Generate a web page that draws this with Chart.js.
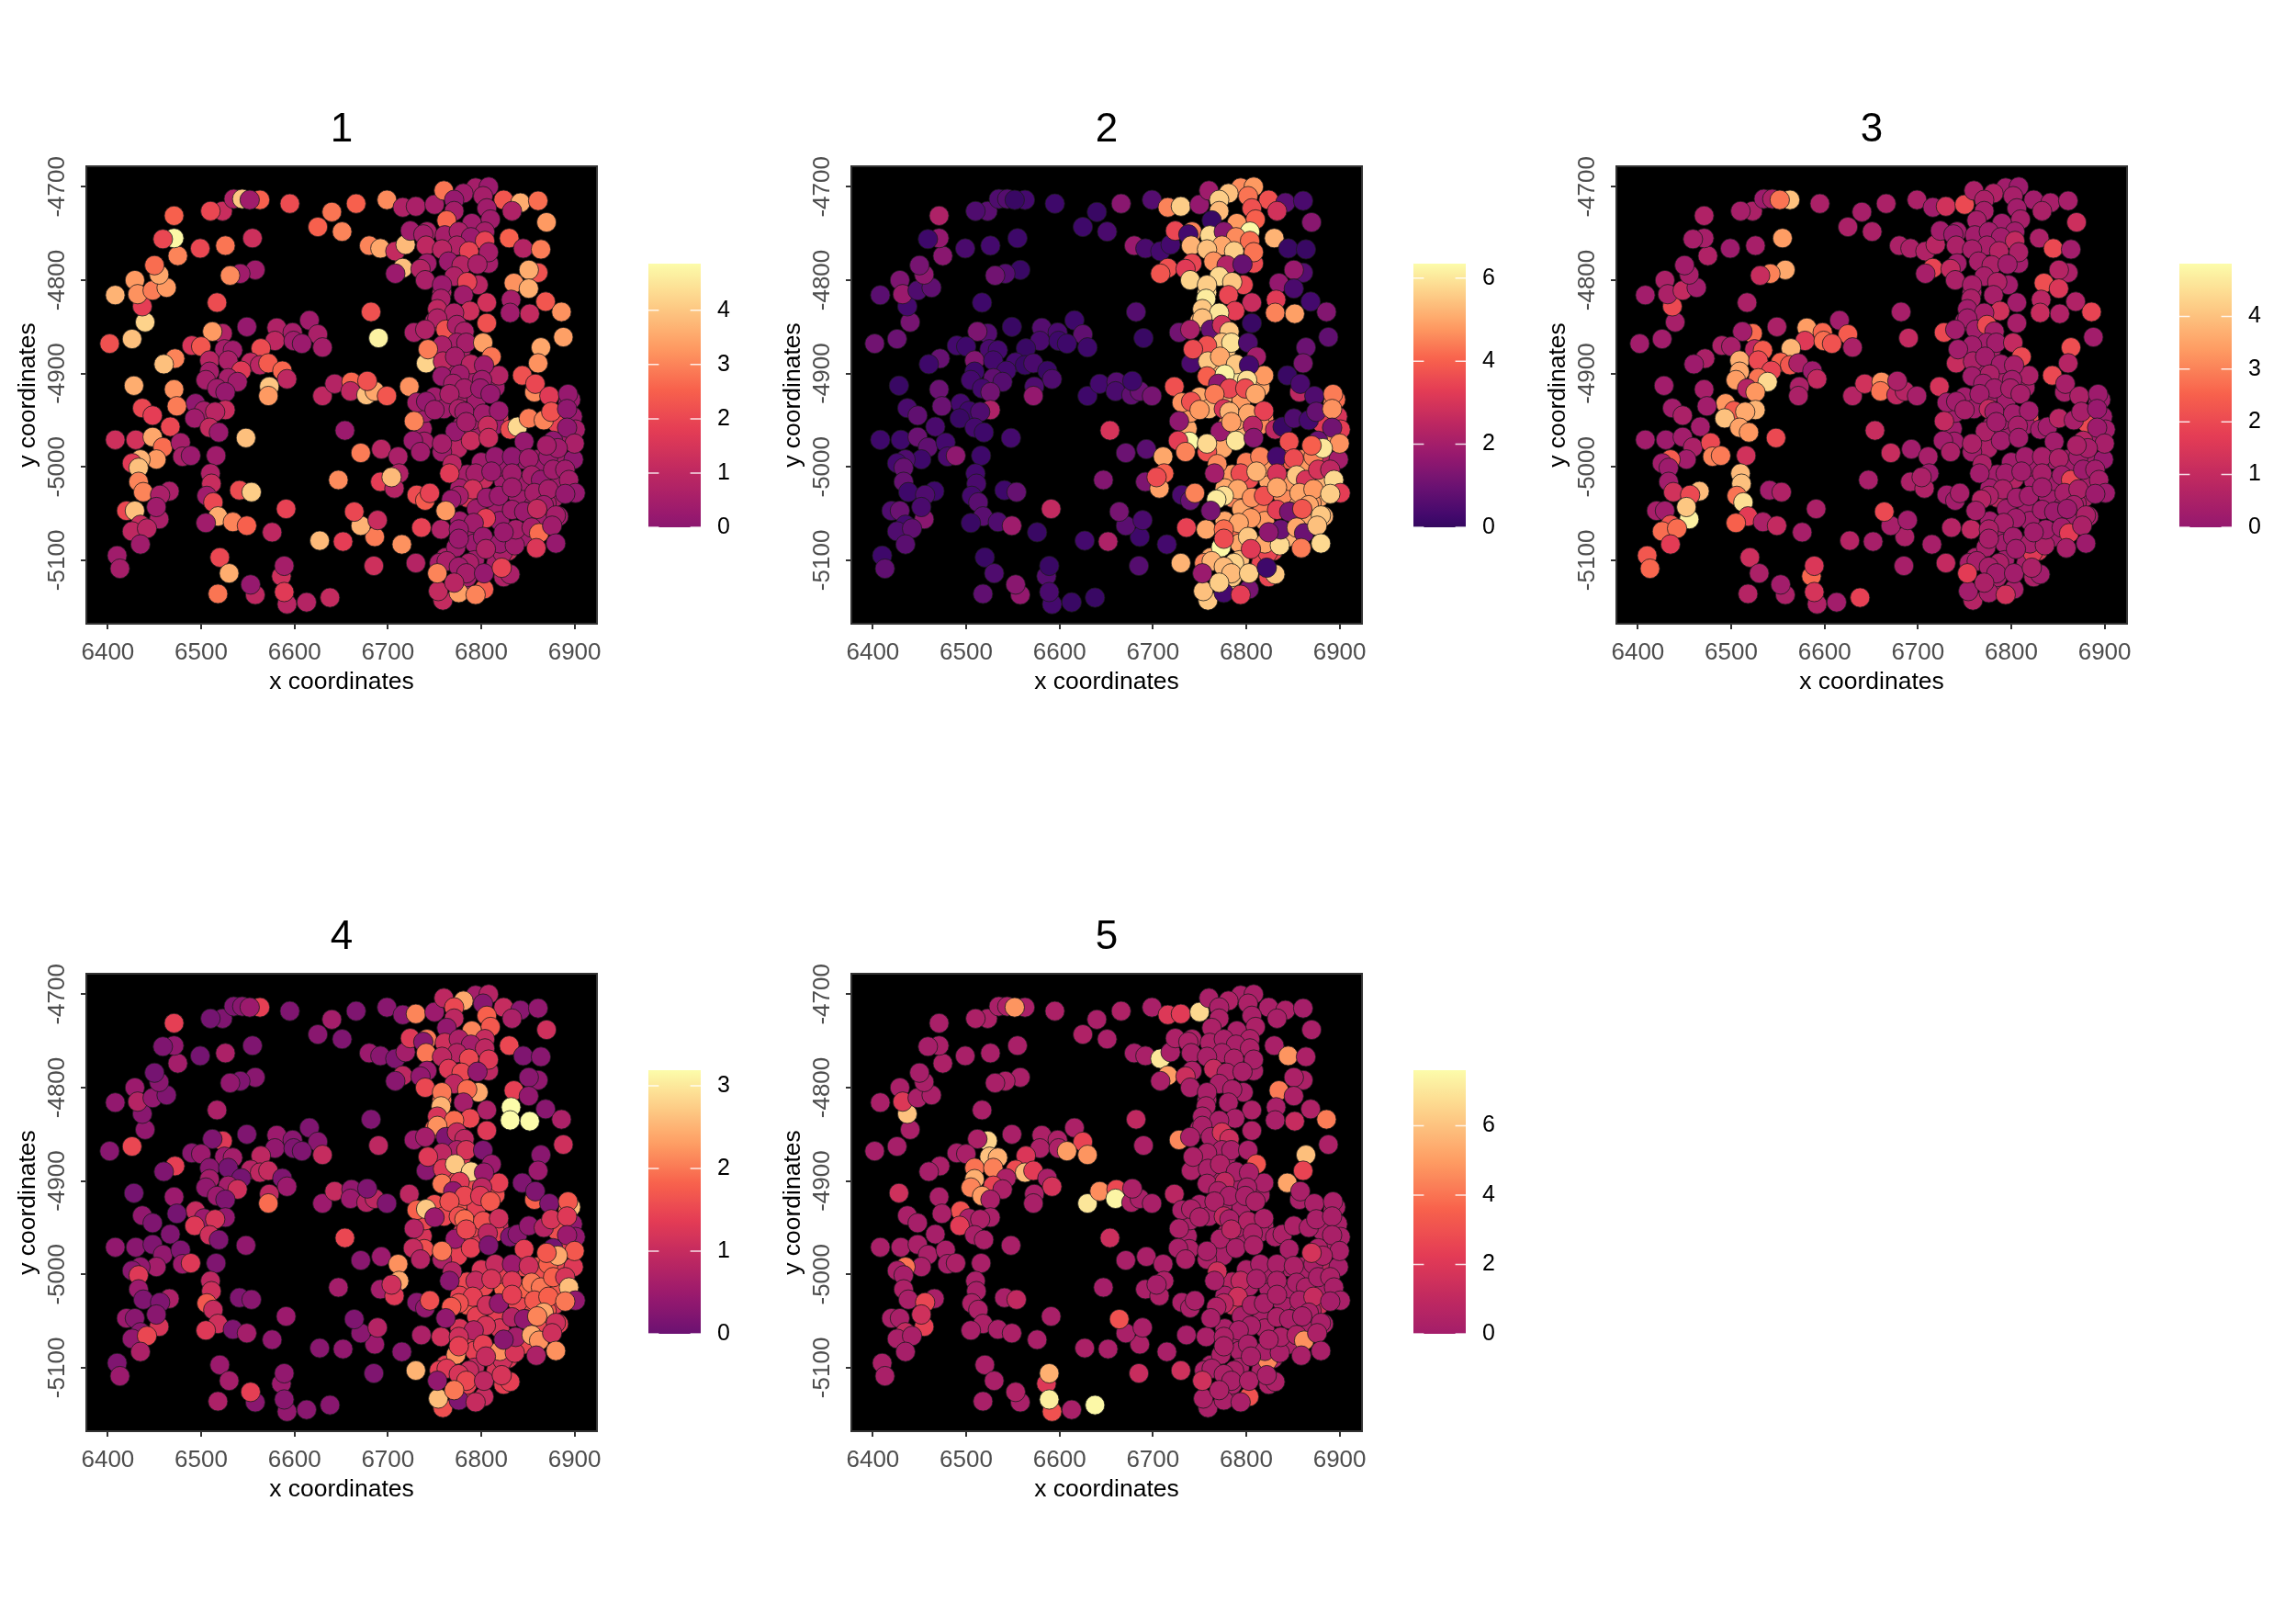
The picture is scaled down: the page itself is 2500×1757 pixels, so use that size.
<!DOCTYPE html>
<html>
<head>
<meta charset="utf-8">
<title>spatial feature plots</title>
<script src="https://cdn.jsdelivr.net/npm/chart.js@4"></script>
<style>
  body { margin: 0; background: #fff; }
  #page { position: relative; width: 2500px; height: 1757px; overflow: hidden; }
  canvas { position: absolute; }
</style>
</head>
<body>
<div id="page"></div>
<script>
const xs = [
6737,6819,6893,6881,6895,6886,6878,6852,6845,6860,
6785,6803,6824,6790,6785,6777,6777,6790,6813,6793,
6783,6785,6762,6793,6816,6829,6847,6855,6883,6870,
6839,6846,6817,6820,6847,6808,6758,6765,6750,6778,
6770,6790,6815,6775,6795,6750,6760,6815,6795,6780,
6790,6740,6775,6830,6800,6818,6860,6880,6868,6795,
6408,6402,6426,6440,6437,6429,6432,6448,6463,6455,
6450,6475,6471,6459,6471,6499,6526,6523,6510,6535,
6563,6544,6552,6595,6555,6558,6542,6531,6517,6549,
6523,6512,6581,6616,6598,6625,6579,6599,6608,6630,
6490,6500,6472,6460,6525,6534,6564,6509,6529,6553,
6563,6543,6572,6509,6505,6529,6539,6587,6592,6573,
6572,6517,6526,6471,6428,6494,6474,6437,6448,6503,
6493,6526,6515,6467,6509,6519,6548,6408,6430,6448,
6459,6478,6480,6489,6516,6452,6435,6426,6433,6510,
6433,6438,6466,6456,6511,6506,6513,6541,6554,6420,
6429,6455,6452,6518,6534,6505,6549,6576,6591,6435,
6426,6442,6435,6410,6413,6520,6530,6518,6558,6553,
6586,6589,6592,6589,6613,6638,6685,6627,6652,6686,
6671,6689,6664,6647,6715,6730,6736,6757,6671,6693,
6711,6712,6692,6707,6704,6731,6740,6745,6654,6630,
6643,6661,6660,6677,6686,6678,6699,6723,6682,6690,
6625,6640,6651,6666,6699,6680,6692,6716,6730,6750,
6708,6719,6716,6708,6724,6742,6738,6741,6824,6842,
6861,6833,6870,6830,6845,6864,6861,6851,6835,6851,
6869,6832,6831,6852,6886,6806,6888,6864,6861,6844,
6819,6857,6858,6873,6794,6808,6802,6781,6760,6771,
6771,6763,6806,6810,6790,6804,6761,6776,6789,6804,
6774,6758,6787,6808,6742,6765,6735,6779,6796,6740,
6771,6797,6758,6785,6757,6781,6806,6753,6788,6771,
6753,6728,6740,6762,6774,6782,6774,6784,6802,6758,
6741,6811,6743,6759,6772,6789,6803,6758,6777,6801,
6770,6782,6799,6766,6810,6731,6741,6750,6776,6782,
6802,6819,6728,6772,6784,6807,6831,6839,6739,6727,
6758,6758,6735,6789,6808,6846,6877,6815,6833,6851,
6872,6899,6769,6766,6794,6811,6833,6854,6864,6877,
6890,6894,6791,6776,6768,6762,6806,6819,6833,6857,
6872,6901,6890,6833,6846,6867,6860,6880,6805,6792,
6776,6773,6776,6802,6823,6820,6836,6837,6824,6805,
6854,6862,6876,6880,6859,6755,6763,6787,6776,6784,
6759,6754,6776,6803,6771,6803,6824,6831,6822,6794,
6753,6898,6901,6896,6893,6851,6867,6875,6892,6892,
6900,6882,6870];
const ys = [
-4959,-4948,-4931,-4953,-4967,-4997,-5033,-5035,-4992,-4992,
-5008,-5013,-5015,-5030,-5033,-5023,-5058,-5064,-5084,-5082,
-5131,-5118,-5097,-5100,-5103,-5090,-5048,-5066,-5053,-5039,
-5030,-5015,-5048,-5058,-5075,-4782,-4813,-4852,-4844,-4877,
-4895,-4905,-4915,-4925,-4928,-4925,-4938,-4955,-4962,-4955,
-4950,-4942,-4980,-5000,-4995,-5000,-5000,-5015,-5058,-5045,
-4816,-4868,-4863,-4845,-4828,-4800,-4815,-4811,-4808,-4794,
-4784,-4774,-4755,-4756,-4731,-4766,-4763,-4726,-4726,-4713,
-4714,-4713,-4714,-4718,-4755,-4789,-4793,-4795,-4824,-4850,
-4857,-4855,-4851,-4843,-4856,-4858,-4865,-4865,-4868,-4872,
-4870,-4871,-4884,-4890,-4874,-4875,-4873,-4886,-4886,-4888,
-4891,-4897,-4889,-4898,-4907,-4905,-4909,-4897,-4906,-4914,
-4924,-4916,-4920,-4917,-4913,-4932,-4935,-4937,-4945,-4940,
-4948,-4939,-4941,-4957,-4958,-4963,-4969,-4971,-4971,-4968,
-4979,-4974,-4989,-4988,-4988,-4992,-4992,-4996,-5001,-5007,
-5016,-5027,-5026,-5030,-5018,-5031,-5038,-5025,-5027,-5047,
-5047,-5056,-5043,-5053,-5059,-5060,-5063,-5070,-5045,-5062,
-5069,-5066,-5083,-5095,-5109,-5097,-5114,-5136,-5137,-5126,
-5117,-5106,-5147,-5134,-5145,-5140,-5106,-5079,-5080,-5075,
-5063,-5057,-5048,-5014,-5083,-5103,-5065,-5067,-4985,-4981,
-4989,-5007,-5016,-5023,-5011,-5030,-5036,-5028,-4961,-4924,
-4911,-4909,-4919,-4923,-4919,-4908,-4924,-4914,-4834,-4862,
-4743,-4727,-4748,-4718,-4714,-4763,-4766,-4722,-4721,-4719,
-4769,-4762,-4787,-4793,-4747,-4748,-4751,-4763,-4714,-4717,
-4715,-4726,-4738,-4755,-4766,-4767,-4792,-4789,-4803,-4809,
-4823,-4821,-4835,-4836,-4834,-4846,-4861,-4872,-4889,-4902,
-4902,-4920,-4911,-4924,-4701,-4700,-4710,-4707,-4704,-4714,
-4726,-4736,-4723,-4735,-4739,-4748,-4752,-4748,-4754,-4758,
-4763,-4767,-4769,-4770,-4782,-4780,-4788,-4784,-4783,-4800,
-4796,-4805,-4805,-4802,-4820,-4816,-4824,-4831,-4833,-4835,
-4841,-4856,-4853,-4853,-4848,-4855,-4867,-4867,-4867,-4870,
-4889,-4882,-4874,-4887,-4882,-4890,-4891,-4903,-4901,-4907,
-4911,-4916,-4916,-4922,-4922,-4931,-4930,-4939,-4938,-4941,
-4943,-4940,-4951,-4962,-4952,-4956,-4960,-4957,-4973,-4972,
-4984,-4975,-4984,-4972,-4969,-4973,-4972,-4989,-4989,-4991,
-4989,-4992,-4997,-5007,-5007,-5005,-5007,-5009,-5014,-5003,
-5003,-5014,-5024,-5031,-5035,-5047,-5033,-5031,-5022,-5028,
-5024,-5028,-5029,-5046,-5048,-5041,-5045,-5052,-5055,-5060,
-5067,-5086,-5077,-5075,-5092,-5082,-5084,-5067,-5070,-5088,
-5065,-5071,-5063,-5082,-5087,-5103,-5101,-5103,-5107,-5114,
-5143,-5133,-5135,-5131,-5124,-5114,-5118,-5115,-5108,-5137,
-5114,-4946,-4960,-4928,-4922,-4948,-4950,-4941,-4938,-4958,
-4975,-4980,-4977];

const values1 = [
.5,1.5,.3,1.9,.4,.4,.5,.4,.3,.4,
.5,1.2,.4,.6,1.6,.5,.4,.4,.3,.3,
.5,.5,.6,.4,.5,1.2,.4,.4,.4,.5,
.4,.4,.4,.3,.4,.5,.7,.7,.6,.6,
.5,.5,.4,.5,.4,.4,.4,.3,.5,.4,
.5,.4,.9,.4,.4,.3,.3,.4,.4,.4,
3.7,2.2,3.9,4.2,1.8,3.3,3.2,2.9,3.3,3.5,
2.7,3,4.8,2,2.5,2,2.8,1.2,2,.7,
2.5,4,.4,2.1,1.3,.4,.4,3.1,2.1,.2,
.7,3.3,.7,.4,.5,.6,1,.4,.3,.5,
1.5,2.3,3,3.9,.5,.4,2.1,.9,.6,1,
.9,1.7,2.4,.5,.5,.5,.4,2.6,1,4,
3.3,.4,.2,3.2,3.6,.1,2.9,2,1.8,.5,
.4,1.2,.9,2,1.1,.3,3.9,1.3,1.4,3.5,
2.7,.5,.6,.3,.4,3.3,3.7,1.7,3.9,.7,
3,3,.6,.6,1.2,.4,2,2.1,4.1,2,
3.9,.6,.4,3.6,3,.4,2.5,1,1.9,1.2,
1,.9,.4,.4,.5,2,3.6,2.8,1,.2,
1.3,.5,.9,1.7,.8,1.1,1.3,3.8,1.8,2.9,
3.7,1.2,2,3.1,3.2,.8,1.9,.7,2.9,.9,
.6,.7,1.8,.8,3.8,2.1,2.4,1.9,.3,1,
.8,2.6,1,3.9,3.5,2.2,2.3,3.2,2.2,4.7,
2.5,2.8,3,2.5,3.1,3,3.5,.7,.6,.5,
1.1,3.8,3.9,.3,.4,.6,.5,1,2.3,3.6,
2.7,.7,3.3,2.5,.8,2.9,2.2,3.6,3.2,3.6,
2.3,.5,.4,1.1,3.2,2.2,3.4,3.5,3.2,2.2,
.8,3.1,2,1.7,.5,.3,.5,.4,2.8,.2,
.5,2.6,.4,.4,.4,.5,.5,.6,.3,1.9,
.7,.9,1.9,.5,.4,.3,.8,.8,.6,.6,
.7,.9,.3,1.9,.6,.4,1.4,1,1.3,.7,
.7,.6,.7,2.2,.6,.6,.5,.5,3.4,.6,
4.2,2.8,2.9,1,.5,.9,.4,.3,.4,.4,
.5,.5,.3,.6,.2,.5,.2,.4,.6,.4,
.4,.3,3,.2,.5,1.2,2.1,4.3,.5,.3,
.4,.5,.4,1.2,1.2,.2,.1,.2,.1,.4,
.3,.1,.9,1.7,.5,.3,.4,.5,.2,.4,
.4,.5,1.4,.5,.3,3.3,.3,.3,.4,.5,
.5,.2,.2,.4,.3,.4,1.1,.5,1.8,.4,
.3,.4,.3,.3,.6,.3,.4,.5,.3,.7,
.5,2.7,.4,.2,1.6,.5,.6,.6,.4,.5,
1.1,1.1,3.4,2.4,.9,.2,.7,.6,1.9,3,
3,.3,.5,.3,.2,2.9,3,2.2,.1,.1,
.6,.4,.5];
const values2 = [
5,4.5,4.6,3.2,4.8,2.5,5,5,4,4.6,
4.8,3.6,5,5.6,4.5,5,5,4.2,4.6,5,
5.5,5.5,5,5.4,3.5,3.6,5,5,5.2,4.8,
4.6,4.8,4.4,4.8,5.2,3.6,5.8,5,5.2,5.5,
5.2,6,5,5.2,4.8,5,5.2,4.6,5.2,4.8,
5,4.8,5,4.2,4.4,4.8,4.8,5.2,5,5,
.7,1.1,1,1.2,.3,1.3,1.8,.5,.8,1.6,
1.2,1.5,1.7,.2,2.2,.4,.3,.7,.5,.5,
.3,.6,.1,.2,.2,.1,.6,1.1,.2,.1,
.6,1.3,.6,.2,.4,.8,.4,.2,.2,.2,
.3,.2,.9,.2,.4,.3,.1,1.4,.3,.3,
.1,.3,.4,.2,.3,.8,.6,.1,.5,.5,
1.7,.3,1.1,1,.1,.3,1,.4,.8,.2,
.1,2.2,.5,.4,.3,.2,.3,.2,.2,1,
.8,.3,.4,1.6,.2,.2,.5,.3,.9,.3,
.9,.2,.2,.5,.4,.3,.7,.2,.9,.5,
1,1.5,.4,.7,.5,.1,1.9,.1,2.6,.3,
.5,.8,.7,.2,.8,.1,.5,.8,1.7,1.5,
.6,.1,.3,.4,.1,.1,.6,.3,2.2,.2,
.7,.4,1.2,1.4,.3,5.2,3.4,5,1,.7,
5,4,1.3,4.9,3.6,.4,.9,4.5,3,.2,
.3,.6,.4,.8,1,.2,1.2,3.7,.6,.1,
.2,.1,.4,1.5,.6,1.8,.4,4.5,5.6,1.7,
.3,.3,3.7,3.8,3.5,4.5,.3,5.2,3.7,.7,
.4,2.9,1.5,5.2,.1,.1,.6,1.8,1.7,.4,
.3,3.2,4.5,4.9,1.4,.1,.8,1,1.3,.1,
4.8,2.5,.4,.5,4.6,4.8,4.3,5.4,1.9,5.6,
5.3,.1,3.7,4,4.8,6.3,5.8,1.5,4.6,4.2,
5,5.4,5.6,4.3,3.5,4.7,3.2,2.3,.9,5.7,
5.8,3.5,5.6,5.5,6.1,3.5,2.7,5.5,3.3,6,
5.4,1.1,2.1,.9,2.9,5.5,5.4,5.9,.5,3.7,
.4,2,3.6,5.5,5,5.5,.3,4,6.2,5.9,
1.6,3.5,3.6,4.4,5,4.7,3.7,4.8,3,5.2,
5,3.4,1.6,1.8,4.9,2.4,2.5,.1,6.3,3.3,
3.7,5.8,4.5,6,1.5,3.7,1,4.5,.3,3.6,
4.5,2,4.6,2,3.6,5.2,3,5.5,3,3,
2.5,5.8,5,5.9,6.1,1.2,4.7,3.7,5,5,
4.8,3.3,5.6,3.3,1.2,5,3.8,5.5,4.8,5,
4.2,6.3,3.6,5.5,3.5,5,5.8,1,1.6,3.2,
5,1,5.4,5.8,4.4,4.5,5.2,5.7,5.3,5.3,
5.5,5.4,.3,1.2,5.6,5.6,3.5,5.5,.2,3.3,
1.8,3,3.3,4.2,4.4,.5,.3,.9,4.7,1.1,
4.7,6,4];
const values3 = [
.3,2,.2,2,.3,.3,.5,.3,.3,.3,
.3,.7,.3,.3,.9,.3,.3,.3,.3,.3,
.4,.4,.4,.3,.4,1.5,.3,.3,.4,.4,
.3,.3,.3,.3,.3,.3,.4,.3,.3,.4,
.3,.4,.4,.3,.3,.3,.3,.3,.3,.3,
.3,.3,.5,.4,.3,.3,.3,.4,.3,.3,
.3,.3,.3,.4,2,.5,.5,1,.3,.4,
.3,.6,.4,.4,.6,.2,.4,.5,.4,.2,
4,.5,2.8,.5,3.4,3.6,3,1.1,.5,.5,
2.7,.3,3.4,.3,2.6,2.4,1.6,2.7,2.2,.5,
.5,.4,.5,.2,.9,2.4,3.8,3.7,2,2.5,
2.3,1.9,.5,3.6,3.4,2.8,4.4,.2,1,.5,
.5,.7,3.3,.4,.3,3.3,.3,.3,.5,2.4,
4,3.8,3.6,.3,3.5,3.3,2,.3,.2,.3,
.5,2,3,2.9,1.3,.3,2.4,.3,.2,3.9,
.3,1.3,3.9,2,4,2.8,4.5,.3,.6,.4,
.3,4.8,4.1,1.7,.5,2.5,1,.4,.5,2.2,
2.7,2.7,1.7,2.3,2.6,1.2,.5,.7,.5,.3,
2.6,1.5,.6,1.4,.3,1.8,.4,.7,.4,.5,
.4,.3,2,.4,.4,1,.7,.9,1.1,.3,
.4,.2,.5,.6,.5,.3,.3,.4,1.1,.7,
1.3,3.2,2.8,.9,.7,.5,.4,1.4,.4,1,
.5,.4,.5,.5,.5,.5,.5,.3,1.3,2,
.6,.8,1.9,.4,.3,.3,.2,.5,.3,.4,
.4,.5,1.2,.5,2,.3,.5,.7,2.1,1.5,
.6,.8,1.1,.6,1.9,.4,.3,2.1,.7,2,
.5,.4,.4,.5,.3,.2,.4,.6,.5,.5,
.4,.4,.3,.4,.3,.3,.3,.3,.3,1,
.4,.4,.7,.5,.3,.4,1,.5,.3,.5,
.4,.3,.4,.6,.5,.4,.3,.3,1.3,.4,
.3,2,.3,.3,2,.4,.3,.3,1,.3,
1.1,2,.3,.5,.3,.3,.4,.3,.5,.3,
.3,.3,.4,.3,.4,.3,.3,.4,1,.3,
.3,.3,1,.5,.3,.4,.3,.3,.3,.3,
.3,.5,.5,.3,.3,.3,.7,.3,.4,.5,
.3,.1,.5,.3,.3,.3,.4,.3,1.9,.2,
.3,.4,.5,.5,.7,.4,.3,.3,.3,.4,
.5,.2,.2,.3,.2,.4,.2,.5,.3,.4,
.5,.4,.4,.3,1.6,.4,.5,.3,.3,.3,
.3,1.7,.5,.2,.4,.4,.4,.5,.4,.3,
.7,.3,.4,.4,.5,.3,.5,.3,.5,1.3,
1.7,.2,.3,.2,.2,.8,.4,.4,.1,.2,
.4,.4,.5];
const values4 = [
1.2,1,2,1.6,1.4,1.5,1.3,1.6,1.5,1.7,
1.5,1.5,1.8,1.5,1.7,1.4,1.2,1.4,1.3,1.4,
1.3,1.4,1.4,.9,1.2,1.3,1.2,1.7,1.4,1.7,
1.5,1.8,1.4,1.2,1.5,.9,1.9,1.1,1.7,1.3,
1.6,1.6,1.6,1.7,1.4,1.6,1.5,1.4,1.3,1.2,
1.5,1.5,1.4,1.5,1.2,1.4,1.6,1.7,1.5,1.4,
.4,.3,1.5,.4,.3,.5,.8,.4,.2,.3,
.1,.6,.4,.2,1.4,.1,.7,.2,.1,.2,
1.4,.3,.5,.2,.2,.3,.2,.4,.7,.2,
1.3,.2,.5,.2,.3,.3,.4,.2,.2,1,
.3,.5,1.4,.2,.5,.6,.9,.3,.1,.8,
.9,.1,1,.6,.4,.6,1.1,.2,.5,.9,
1.9,.5,.2,.5,.1,1,.1,.4,.2,.5,
1.3,.4,1.2,.2,1.1,.2,.4,.4,.3,.2,
.4,.2,.5,1.3,.2,.6,.4,.3,1.3,.9,
.5,.2,.7,.2,1.1,1.7,1,.2,.3,.5,
.3,1.2,.3,1.1,.2,1.3,.6,.4,.5,.3,
.4,1.5,.7,.2,.5,.5,.6,.7,.3,1.4,
.5,.4,.4,.3,.3,.3,.2,.3,.4,.5,
.3,.8,.2,.6,.3,2.5,.7,1.1,.3,.5,
2.2,2.4,.6,1.3,1.1,.3,.4,1.6,1.5,.5,
1,.4,.5,.8,.9,.2,.2,.9,.2,.9,
.3,.6,.2,.2,.3,.5,.3,.3,2.1,.5,
.2,.6,.9,.3,1.3,2,.3,2,1,.3,
.4,.7,1.1,1.5,.2,.3,.4,.3,1.4,.4,
.3,3.2,3.2,3.2,.7,1.3,1.1,.3,.5,.2,
1.4,1.8,.2,.2,.6,.8,.3,2.4,.9,1.5,
.9,.4,1.8,1.7,2.1,1,1.1,.7,.6,.9,
.8,.9,1.5,1.3,.5,1.3,.4,1.5,.4,1.5,
.9,2.4,2,1.9,2.5,.6,.7,1.2,1.5,1.9,
2.2,.5,.6,.2,1,.9,.7,1.2,.2,.9,
.3,.5,1.3,1.3,2.7,2.8,.5,2,1.3,.9,
.4,1.5,1.3,1.6,1.7,1.8,2.7,.5,1.6,1.9,
1.6,1.1,.8,.5,1.5,.9,.2,.3,1.6,1,
.7,2,.8,1.4,.2,1.4,.1,1,.5,1.1,
1.8,1.3,.8,.3,1,1.2,1.3,2,2,1.8,
1.2,2.6,1.4,1.6,1.7,.4,1.1,.4,1.4,1.7,
1.8,.4,2,.8,.4,2.4,2.1,1.1,1.2,.8,
1.1,2.2,1.4,1.4,1.1,2.2,1.2,.6,.3,1,
2.4,2.2,1.1,2.2,.7,1.4,1.3,1,1.2,1.5,
1.6,2.6,.2,1,2,.9,1.4,1.4,1.2,1,
.4,.4,.4,2.6,1.7,.4,.8,1.2,1.3,.5,
1.7,2.4,1.7];
const values5 = [
.2,.3,.2,.2,.2,.8,1.5,.3,.2,.2,
.6,.3,.2,.3,1.5,.2,.2,.2,.2,.2,
.2,.2,.2,.2,.3,.3,.2,.2,.2,.4,
.2,.2,.2,.3,.3,.2,.2,.2,.2,.2,
.2,.2,.2,.2,.2,.2,.2,.2,.2,.2,
.2,.2,.2,.2,.3,.2,.2,.2,.2,.2,
.2,.1,.1,.2,6,.2,2,.2,.2,.2,
.1,.3,.2,.1,.2,.2,.2,.3,.3,.2,
.2,.3,4.8,.3,.2,.2,.3,.2,.2,.2,
6.5,.3,.3,.3,.3,2.5,.3,.3,5,4.8,
.1,.2,.2,.1,6,5.5,1.9,4,4.3,2.8,
5.8,.3,2.2,5.5,4.4,2.5,.3,.2,1.7,.2,
.2,5,.2,.2,1.5,3,.2,.2,.1,.2,
2.2,.2,.3,.1,.2,.2,.2,.2,.2,.2,
.2,.2,.1,.3,.2,.2,4,.2,.1,.2,
.3,.2,.2,2.6,.2,.3,.3,.2,1,.2,
.2,2.4,1.5,.3,.2,.2,.3,.2,.2,1.1,
.2,.2,.1,.2,.2,.2,.2,.2,.2,.4,
2,5.5,3,7.2,.2,7.5,1.3,.3,.2,.3,
.2,.2,3,.1,.2,1.5,.1,.2,.2,.2,
.2,.3,.2,.3,.1,.2,.2,.2,1.4,7,
4.6,2.7,7.4,.3,.2,.3,.2,.8,1,.3,
.4,.2,.2,.4,.2,.1,.2,2,2.2,6.6,
7,.2,5,.2,.3,.3,.3,.2,.2,.3,
.1,.2,.2,.2,4.8,.3,.3,.3,4.2,.3,
.4,.2,.2,1.2,4.2,.4,.3,5.9,2.5,5.2,
.2,.2,.2,.2,.2,.2,.3,.4,.2,.2,
.3,.3,.2,.3,.2,.3,.3,.2,.2,.3,
.2,.2,.3,.2,.3,1.2,1.4,.3,.2,.2,
.2,.2,.2,.2,.3,.2,.3,.2,.2,.2,
.2,4.5,.2,.2,1.8,1.4,.2,.2,.2,.3,
.3,3.1,.3,.2,.4,.2,.2,.3,1,.2,
.3,.2,.2,.3,.3,.2,.3,.3,1,.2,
.5,.3,.3,.3,.8,.3,.2,.3,.3,.2,
.3,.2,.3,.2,.3,.2,.3,.2,.2,.3,
.2,.1,1.5,.2,1,.2,.3,.2,.3,.2,
.3,.2,1.5,.8,.4,.2,.3,.2,.3,.3,
1.2,.2,.1,.3,.2,.3,.2,.2,.2,.2,
.3,.3,.3,.2,4.5,.2,.2,.3,.3,.2,
.4,4.7,.3,.2,.2,.3,.2,.3,.3,.2,
.2,.3,.2,3,.3,.3,.3,.3,.2,.2,
1.5,.2,.2,.2,.2,.3,.2,.2,.2,.2,
.2,.4,1.7];

const panelTitles = ['1', '2', '3', '4', '5'];
const panelValues = [values1, values2, values3, values4, values5];
const barMax = [4.86, 6.35, 5.0, 3.19, 7.6];
const barTicks = [[0, 1, 2, 3, 4], [0, 2, 4, 6], [0, 1, 2, 3, 4], [0, 1, 2, 3], [0, 2, 4, 6]];
const barBegin = [0.37, 0.17, 0.39, 0.3, 0.43];
const xTicks = [6400, 6500, 6600, 6700, 6800, 6900];
const yTicks = [-4700, -4800, -4900, -5000, -5100];
// magma, matched by eye to the colour bars of the reference
const magma = ['#000004', '#170a3c', '#40086c', '#6b1272', '#98196e', '#be2861', '#e43c55', '#f8624c', '#fe9b62', '#fdcc86', '#fcfcaa'];

// where each panel sits on the page
const plotLeft = [94, 927, 1760, 94, 927];
const plotTop = [180, 180, 180, 1059, 1059];
const barLeft = [706, 1539, 2373, 706, 1539];
const barTop = [287, 287, 287, 1165, 1165];

const page = document.getElementById('page');
const font = 'Liberation Sans, Arial, Helvetica, sans-serif';

function hex(c) {
  return [1, 3, 5].map(i => parseInt(c.substr(i, 2), 16));
}
function magmaAt(t) {
  const p = Math.max(0, Math.min(1, t)) * (magma.length - 1);
  const i = Math.min(Math.floor(p), magma.length - 2);
  const a = hex(magma[i]), b = hex(magma[i + 1]);
  const c = a.map((v, k) => Math.round(v + (b[k] - v) * (p - i)));
  return `rgb(${c[0]},${c[1]},${c[2]})`;
}
function addCanvas(left, top, w, h) {
  const c = document.createElement('canvas');
  c.style.left = left + 'px';
  c.style.top = top + 'px';
  c.style.width = w + 'px';
  c.style.height = h + 'px';
  c.width = w;
  c.height = h;
  page.appendChild(c);
  return c;
}

const framePlugin = {
  id: 'frame',
  beforeDatasetsDraw(chart) {
    const a = chart.chartArea;
    chart.ctx.fillStyle = '#000';
    chart.ctx.fillRect(a.left, a.top, a.width, a.height);
  },
  afterDatasetsDraw(chart) {
    const a = chart.chartArea;
    chart.ctx.strokeStyle = '#333';
    chart.ctx.lineWidth = 2;
    chart.ctx.strokeRect(a.left, a.top, a.width, a.height);
  }
};

const barTickPlugin = {
  id: 'barTicks',
  afterDatasetsDraw(chart) {
    const a = chart.chartArea, y = chart.scales.y, ctx = chart.ctx;
    const len = a.width / 5;
    ctx.strokeStyle = 'rgba(255,255,255,0.85)';
    ctx.lineWidth = 1.5;
    y.ticks.forEach(t => {
      const py = y.getPixelForValue(t.value);
      ctx.beginPath();
      ctx.moveTo(a.left, py); ctx.lineTo(a.left + len, py);
      ctx.moveTo(a.right - len, py); ctx.lineTo(a.right, py);
      ctx.stroke();
    });
  }
};

panelTitles.forEach((title, i) => {
  const vals = panelValues[i];
  const canvas = addCanvas(plotLeft[i] - 94, plotTop[i] - 100, 744, 699);
  new Chart(canvas, {
    type: 'scatter',
    data: {
      datasets: [{
        data: xs.map((x, k) => ({ x: x, y: ys[k] })),
        pointRadius: 10.6,
        pointBorderWidth: 0.8,
        pointBorderColor: '#1c1c1c',
        pointBackgroundColor: vals.map(v => magmaAt(barBegin[i] + (1 - barBegin[i]) * v / barMax[i]))
      }]
    },
    options: {
      responsive: false,
      animation: false,
      events: [],
      plugins: {
        legend: { display: false },
        tooltip: { enabled: false },
        title: {
          display: true,
          text: title,
          color: '#000',
          font: { family: font, size: 44, weight: 'normal' },
          padding: { top: 35, bottom: 13.2 }
        }
      },
      scales: {
        x: {
          type: 'linear',
          min: 6377,
          max: 6924,
          afterBuildTicks: s => { s.ticks = xTicks.map(v => ({ value: v })); },
          afterFit: s => { s.height = 100; },
          border: { display: false },
          grid: { drawOnChartArea: false, color: '#333', tickColor: '#333', tickLength: 6, lineWidth: 2 },
          ticks: { color: '#4d4d4d', font: { family: font, size: 26 }, padding: 10, maxRotation: 0, minRotation: 0, callback: v => String(v) },
          title: { display: true, text: 'x coordinates', color: '#000', font: { family: font, size: 26.5 }, padding: { top: 0, bottom: 20 } }
        },
        y: {
          type: 'linear',
          min: -5168,
          max: -4678,
          afterBuildTicks: s => { s.ticks = yTicks.map(v => ({ value: v })); },
          afterFit: s => { s.width = 94; },
          border: { display: false },
          grid: { drawOnChartArea: false, color: '#333', tickColor: '#333', tickLength: 6, lineWidth: 2 },
          ticks: { color: '#4d4d4d', font: { family: font, size: 26 }, padding: -8, minRotation: 90, maxRotation: 90, crossAlign: 'center', callback: v => String(v) },
          title: { display: true, text: 'y coordinates', color: '#000', font: { family: font, size: 26.5 }, padding: { top: 15, bottom: 0 } }
        },
        // empty axis, keeps the plot centred on the canvas so the title sits over it
        spacer: {
          position: 'right',
          display: true,
          afterFit: s => { s.width = 94; },
          border: { display: false },
          grid: { display: false, drawTicks: false },
          ticks: { display: false }
        }
      }
    },
    plugins: [framePlugin]
  });

  // colour bar, one floating bar on its own little chart
  const barCanvas = addCanvas(barLeft[i], barTop[i] - 20, 125, 327);
  new Chart(barCanvas, {
    type: 'bar',
    data: {
      labels: [title],
      datasets: [{
        data: [[0, barMax[i]]],
        barPercentage: 1,
        categoryPercentage: 1,
        backgroundColor: ctx => {
          const a = ctx.chart.chartArea;
          if (!a) return magmaAt(barBegin[i]);
          const g = ctx.chart.ctx.createLinearGradient(0, a.bottom, 0, a.top);
          for (let s = 0; s <= 40; s++) g.addColorStop(s / 40, magmaAt(barBegin[i] + (1 - barBegin[i]) * s / 40));
          return g;
        }
      }]
    },
    options: {
      responsive: false,
      animation: false,
      events: [],
      layout: { padding: { top: 20, bottom: 20 } },
      plugins: { legend: { display: false }, tooltip: { enabled: false } },
      scales: {
        x: { display: false },
        y: {
          position: 'right',
          min: 0,
          max: barMax[i],
          afterBuildTicks: s => { s.ticks = barTicks[i].map(v => ({ value: v })); },
          afterFit: s => { s.width = 68; s.paddingTop = 0; s.paddingBottom = 0; },
          border: { display: false },
          grid: { display: false, drawTicks: false },
          ticks: { color: '#000', font: { family: font, size: 25 }, padding: 18, callback: v => String(v) }
        }
      }
    },
    plugins: [barTickPlugin]
  });
});
</script>
</body>
</html>
